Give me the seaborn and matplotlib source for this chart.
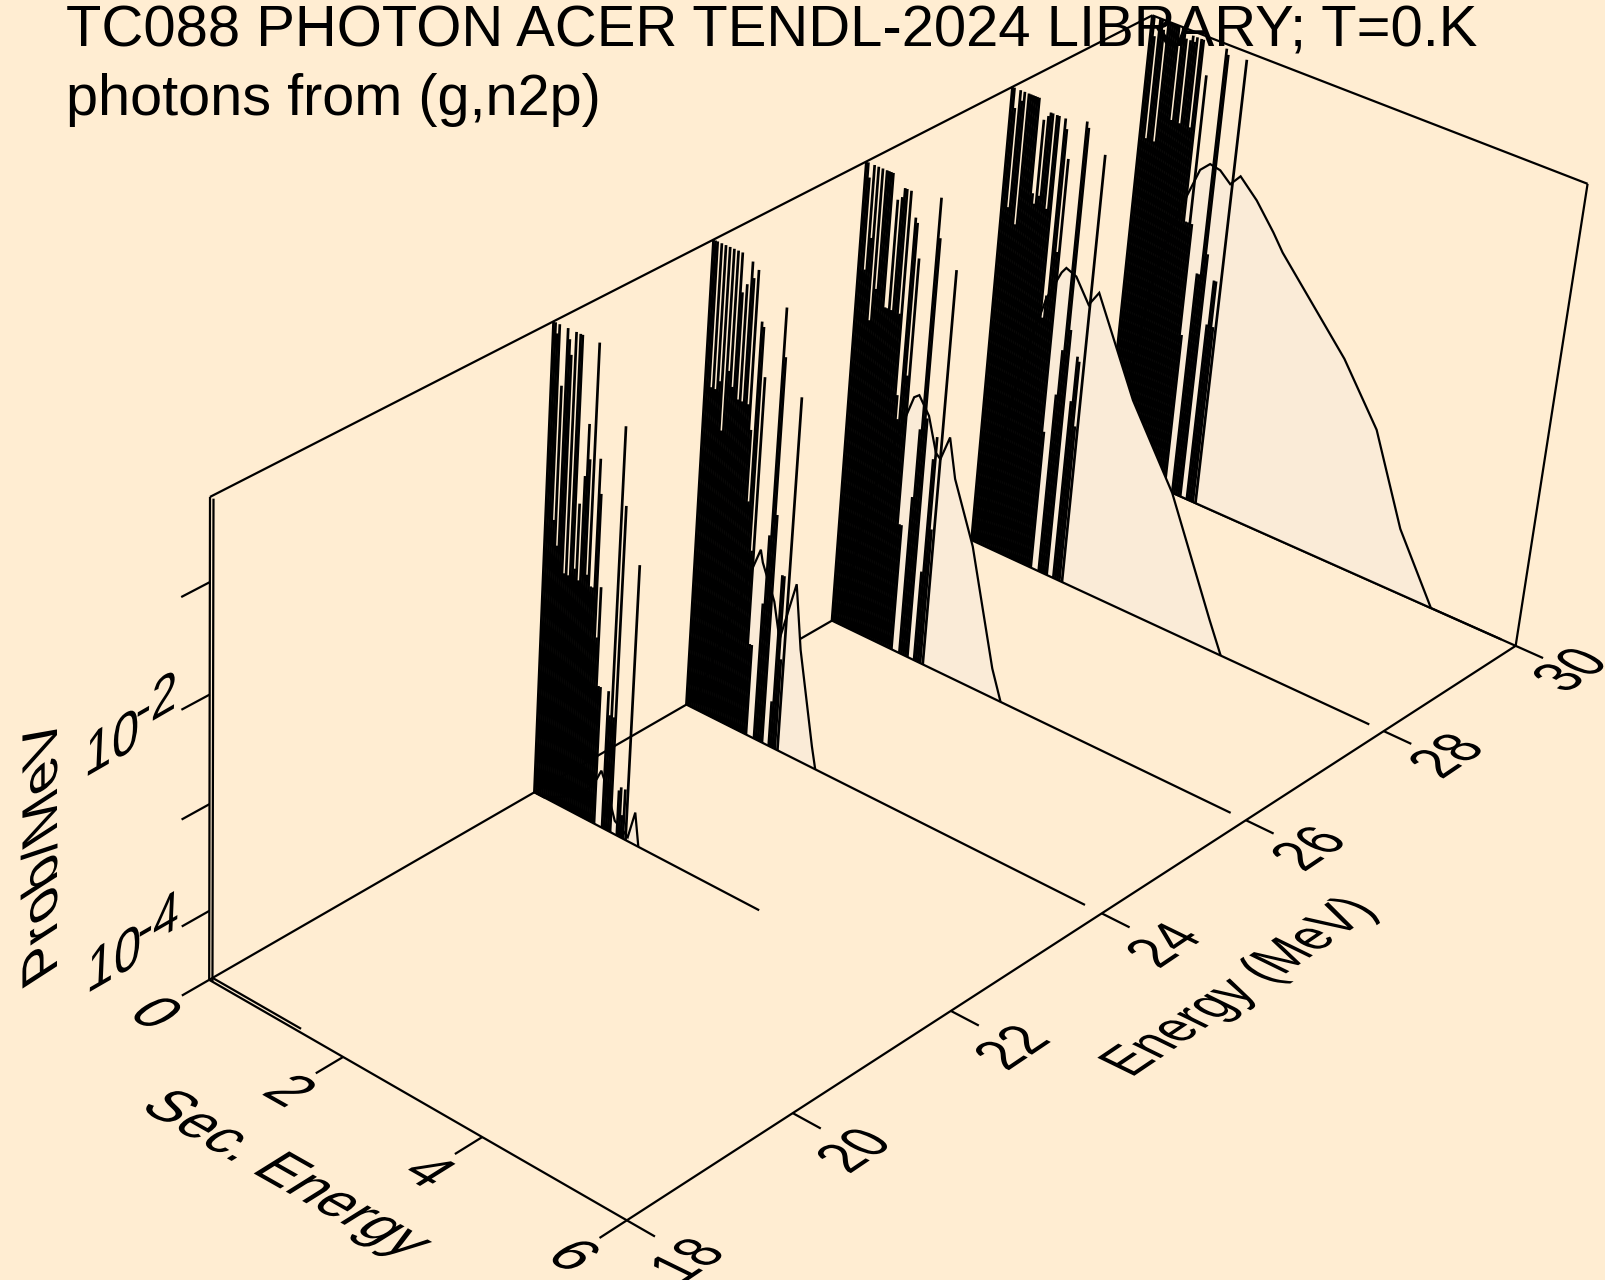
import matplotlib
matplotlib.use('Agg')
import matplotlib.pyplot as plt
from matplotlib.patheffects import AbstractPathEffect
from matplotlib.transforms import Affine2D
import numpy as np
import pandas as pd
import seaborn as sns

# incident energies of the slices, back to front
inc_energy = [30, 28, 26, 24, 22]

# secondary energies of the gamma lines (same for all slices)
line_es = [0.00, 0.03, 0.06, 0.09, 0.12, 0.15, 0.18, 0.21, 0.24, 0.27, 0.30, 0.33,
           0.36, 0.39, 0.42, 0.45, 0.48, 0.51, 0.54, 0.57, 0.60, 0.63, 0.66, 0.69,
           0.72, 0.75, 0.78, 0.81, 0.84, 0.87, 0.90,
           1.02, 1.05, 1.08, 1.11, 1.14,
           1.24, 1.27, 1.30, 1.33, 1.37]

# log10(prob/MeV) at the top of each line
lines_22 = [-.26, -.26, -.35, -.26, -2.02, -.79, -2.24, -.26, -.35, -.48, -2.46, -.26,
            -2.46, -.26, -.26, -2.37, -1.76, -2.46, -1.49, -1.01, -1.32, -2.37, -.26, -2.46,
            -2.46, -1.27, -1.58, -2.90, -2.42, -3.34, -3.34,
            -3.34, -3.56, -.88, -3.56, -1.58,
            -4.22, -4.18, -4.44, -4.18, -2.05]
lines_24 = [-.26, -.26, -.26, -1.58, -.26, -1.58, -.26, -1.49, -.26, -1.93, -.26, -1.36,
            -.26, -1.49, -.26, -.61, -1.58, -.52, -1.58, -.30, -.44, -1.58, -.35, -1.80,
            -2.46, -.79, -.83, -2.90, -1.27, -3.78, -3.78,
            -3.34, -2.68, -.57, -1.01, -2.46,
            -4.22, -2.99, -2.99, -3.78, -1.30]
lines_26 = [-.26, -.26, -.39, -1.23, -.26, -.92, -.26, -1.67, -.26, -1.36, -.26, -.26,
            -.26, -.26, -1.49, -1.49, -.48, -1.49, -.44, -.35, -.35, -1.49, -.35, -2.24,
            -2.46, -.57, -.61, -2.02, -.92, -3.43, -3.43,
            -3.12, -2.46, -.30, -.66, -2.33,
            -3.78, -2.68, -2.46, -3.34, -.88]
lines_28 = [-.26, -.26, -.44, -1.36, -.26, -.35, -.26, -1.49, -.26, -.26, -.26, -.26,
            -.26, -.26, -1.14, -1.23, -.44, -1.14, -.39, -.35, -.35, -1.23, -.35, -.35,
            -2.24, -2.02, -.35, -.44, -1.58, -.70, -3.3,
            -2.90, -2.46, -.30, -.35, -2.24,
            -2.90, -2.46, -2.50, -3.12, -.53]
lines_30 = [-.26, -.26, -.44, -1.40, -.26, -.26, -.35, -1.40, -.26, -.26, -.26, -.26,
            -.26, -.26, -1.14, -.26, -.26, -.35, -1.14, -.35, -.30, -.35, -.30, -1.14,
            -.30, -.30, -2.02, -2.02, -.61, -2.02, -3.1,
            -2.46, -2.46, -.30, -.35, -2.24,
            -2.90, -2.46, -2.46, -2.90, -.33]

# continuum curves
cont_es_30 = [0.15, 0.4, 0.6, 0.76, 0.90, 1.03, 1.18, 1.34, 1.47, 1.73, 2.01, 2.17, 2.68, 3.19, 3.75, 4.25, 4.81]
cont_p_30 = [-4.2, -2.7, -2.1, -1.77, -1.49, -1.40, -1.42, -1.51, -1.40, -1.56, -1.79, -1.94, -2.31, -2.68, -3.21, -4.04, -4.66]
cont_es_28 = [0.15, 0.4, 0.6, 0.75, 0.93, 0.99, 1.14, 1.35, 1.48, 2.1, 2.78, 3.49, 3.7]
cont_p_28 = [-4.44, -3.12, -2.46, -2.05, -1.75, -1.69, -1.73, -1.94, -1.79, -2.64, -3.34, -4.37, -4.66]
cont_es_26 = [0.15, 0.4, 0.6, 0.76, 0.93, 1.00, 1.16, 1.30, 1.37, 1.48, 1.6, 1.93, 2.36, 2.52]
cont_p_26 = [-4.44, -3.34, -2.90, -2.57, -2.19, -2.15, -2.30, -2.61, -2.65, -2.41, -2.77, -3.32, -4.38, -4.66]
cont_es_24 = [0.15, 0.4, 0.6, 0.77, 0.94, 0.98, 1.18, 1.29, 1.48, 1.6, 1.86, 1.93]
cont_p_24 = [-4.53, -4.0, -3.56, -3.2, -2.85, -2.96, -3.27, -3.6, -3.01, -3.60, -4.46, -4.66]
cont_es_22 = [0.15, 0.5, 0.8, 0.91, 0.97, 1.04, 1.2, 1.3, 1.4, 1.49, 1.56]
cont_p_22 = [-4.66, -4.53, -4.35, -4.22, -4.12, -4.22, -4.53, -4.57, -4.62, -4.35, -4.66]

# where the zero line of each slice ends
base_end = [5.80, 5.80, 5.79, 5.77, 3.32]

# axis ranges and ticks
e_range = (18, 30)
es_range = (0, 6)
p_range = (-4.66, -0.26)
e_ticks = [18, 20, 22, 24, 26, 28, 30]
es_ticks = [0, 2, 4, 6]
p_ticks = [-4, -3, -2, -1]

BG = '#FFEDD2'
FILL = '#FAEBD7'

sns.set_theme(style='white', rc={'figure.facecolor': BG, 'axes.facecolor': BG, 'text.color': 'black'})
plt.rcParams['font.family'] = ['Liberation Sans', 'DejaVu Sans']

# view: box corners (E, Es, logP) seen at these pixels, camera fitted from them
view_world = [(18, 0, -4.66), (18, 6, -4.66), (30, 6, -4.66), (30, 0, -4.66),
              (18, 0, -0.26), (30, 6, -0.26), (30, 0, -0.26)]
view_pixel = [(210, 981), (626, 1220), (1516, 645), (1105, 463),
              (210, 496), (1588, 185), (1152, 15)]


def unit(e, es, p):
    return ((np.asarray(e, float) - 18) / 12, np.asarray(es, float) / 6,
            (np.asarray(p, float) + 4.66) / 4.4)


rows = []
for w, (x, y) in zip(view_world, view_pixel):
    X, Y, Z = [float(c) for c in unit(*w)]
    x, y = x / 1000, y / 1000
    rows.append([X, Y, Z, 1, 0, 0, 0, 0, -x * X, -x * Y, -x * Z, -x])
    rows.append([0, 0, 0, 0, X, Y, Z, 1, -y * X, -y * Y, -y * Z, -y])
cam = np.linalg.svd(np.array(rows))[2][-1].reshape(3, 4)


def project(e, es, p):
    X, Y, Z = np.broadcast_arrays(*unit(e, es, p))
    h = np.stack([X, Y, Z, np.ones_like(X)])
    q = cam @ h
    return q[0] / q[2] * 1000, q[1] / q[2] * 1000


class Shear(AbstractPathEffect):
    # text lying in one of the 3D box planes: stretch along baseline, slant the glyph up direction
    def __init__(self, sx, k, sy):
        super().__init__()
        self.m = Affine2D.from_values(sx, 0, k, sy, 0, 0)

    def draw_path(self, renderer, gc, tpath, affine, rgbFace=None):
        renderer.draw_path(gc, tpath, self.m + affine, rgbFace)


fig = plt.figure(figsize=(16.05, 12.80), dpi=100)
ax = fig.add_axes([0, 0, 1, 1])
ax.set_xlim(0, 1605)
ax.set_ylim(1280, 0)
ax.axis('off')

LW = 1.6


def draw(segments, zorder, lw=LW):
    # segments: list of (E, Es, logP) arrays, one line per unit
    parts = []
    for i, (e, es, p) in enumerate(segments):
        px, py = project(e, es, p)
        parts.append(pd.DataFrame({'px': np.atleast_1d(px), 'py': np.atleast_1d(py), 'seg': i}))
    df = pd.concat(parts, ignore_index=True)
    sns.lineplot(data=df, x='px', y='py', units='seg', estimator=None, sort=False, color='black',
                 linewidth=lw, solid_capstyle='butt', solid_joinstyle='miter', errorbar=None,
                 legend=False, ax=ax, zorder=zorder)


# title goes under the data
ax.text(66, 46, 'TC088 PHOTON ACER TENDL-2024 LIBRARY; T=0.K', fontsize=41.8, va='baseline', zorder=1)
ax.text(66, 115, 'photons from (g,n2p)', fontsize=41.5, va='baseline', zorder=1)

# box
e0, e1 = e_range
s0, s1 = es_range
p0, p1 = p_range
frame = [([e0, e0], [s0, s1], [p0, p0]), ([e0, e1], [s1, s1], [p0, p0]), ([e0, e1], [s0, s0], [p0, p0]),
         ([e1, e1], [s0, s1], [p0, p0]), ([e0, e0], [s0, s0], [p0, p1]), ([e0, e1], [s0, s0], [p1, p1]),
         ([e1, e1], [s0, s1], [p1, p1]), ([e1, e1], [s1, s1], [p0, p1])]
for t in p_ticks:
    frame.append(([e0, e0 - 0.32], [s0, s0], [t, t]))
for t in es_ticks:
    frame.append(([e0, e0 - 0.32], [t, t], [p0, p0]))
for t in e_ticks:
    frame.append(([t, t], [s1, s1 + 0.38], [p0, p0]))
draw(frame, 2)

# E = 18 sliver at the corner
draw([([18.04, 18.04], [0, 1.33], [p0, p0]), ([18, 18], [0.05, 0.05], [p0, p1])], 3, lw=1.6)

all_lines = [lines_30, lines_28, lines_26, lines_24, lines_22]
all_es = [cont_es_30, cont_es_28, cont_es_26, cont_es_24, cont_es_22]
all_p = [cont_p_30, cont_p_28, cont_p_26, cont_p_24, cont_p_22]

for k, e in enumerate(inc_energy):
    z = 10 + k
    es = np.r_[0.0, all_es[k]]
    p = np.r_[p0, all_p[k]]
    px, py = project(e, es, p)
    ax.fill(px, py, facecolor=FILL, edgecolor='none', zorder=z)
    draw([(e, es, p), ([e, e], [0, base_end[k]], [p0, p0])], z + 0.1)
    draw([([e, e], [s, s], [p0, v]) for s, v in zip(line_es, all_lines[k])], z + 0.2, lw=1.95)

# tick labels and axis titles, each in the plane of its axis
FS = 41.8
es_look = dict(rotation=-29.5, path_effects=[Shear(0.97, 0.50, 0.92)])
e_look = dict(rotation=34, path_effects=[Shear(0.86, -0.53, 0.92)])
z_look = dict(rotation=30, path_effects=[Shear(0.97, 0.56, 0.88)])
base = dict(ha='left', va='baseline', rotation_mode='anchor')

# label nudges along the energy axis, they grow towards the near corner
e_nudge = [(-3, 10), (-2, 8), (-2, 8), (-1, 4), (0, 1), (0, -2), (-8, -2)]

for t in es_ticks:
    x, y = project(e0 - 0.32, t, p0)
    ax.text(x - 56, y + 20, str(t), fontsize=FS, **base, **es_look)
for t, (dx, dy) in zip(e_ticks, e_nudge):
    x, y = project(t, s1 + 0.38, p0)
    ax.text(x + 30 + dx, y + 38 + dy, str(t), fontsize=FS, **base, **e_look)
for lab, sup, x, y, sx, sy in [('10', '-2', 84, 778, 135, 731), ('10', '-4', 86, 994, 137, 951)]:
    ax.text(x, y, lab, fontsize=FS, **base, **z_look)
    ax.text(sx, sy, sup, fontsize=FS * 0.95, **base, **z_look)
ax.text(1131, 1078, 'Energy (MeV)', fontsize=FS * 0.97, **base, **e_look)
ax.text(138, 1108, 'Sec. Energy', fontsize=FS, **base, **es_look)
ax.text(57, 971, 'Prob/MeV', fontsize=FS, rotation=90, path_effects=[Shear(1.0, -0.56, 0.865)], **base)

fig.savefig('out.png', dpi=100, facecolor=BG)
